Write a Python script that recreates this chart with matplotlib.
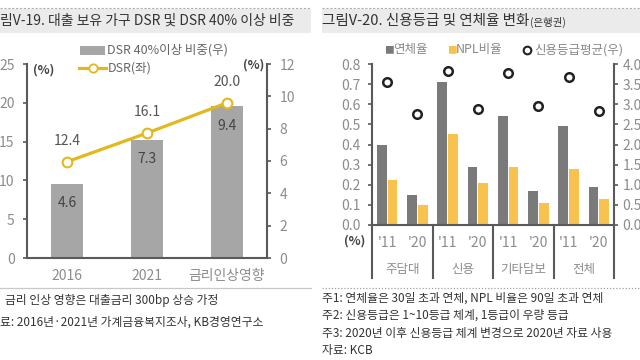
import matplotlib
matplotlib.use("Agg")
import matplotlib.pyplot as plt
from matplotlib.patches import Rectangle
from matplotlib.lines import Line2D
import numpy as np

plt.rcParams['font.family'] = ['Noto Sans CJK KR', 'DejaVu Sans']

# ---- Left chart data ----
left_cats = ["2016", "2021", "금리인상영향"]
dsr = [12.4, 16.1, 20.0]            # left axis
dsr40_share = [4.6, 7.3, 9.4]       # right axis

# ---- Right chart data ----
groups = ["주담대", "신용", "기타담보", "전체"]
years = ["'11", "'20"]
delinq = [0.40, 0.15, 0.71, 0.29, 0.54, 0.17, 0.49, 0.19]
npl = [0.225, 0.10, 0.45, 0.21, 0.29, 0.11, 0.28, 0.13]
credit_grade = [3.55, 2.76, 3.83, 2.88, 3.78, 2.96, 3.68, 2.83]

W, H = 640, 360
fig = plt.figure(figsize=(6.4, 3.6), dpi=100)

def fx(x):
    return x / W

def fy(y):
    return 1 - y / H

def rect(x0, y0, x1, y1):
    return [fx(x0), fy(y1), fx(x1) - fx(x0), fy(y0) - fy(y1)]

SP = "#5a5a5a"
TK = "#8c8c8c"
GOLD = "#E3B81C"

# ---- Title bars ----
for (x0, x1) in [(0, 311), (322, 640)]:
    fig.patches.append(Rectangle((fx(x0), fy(33)), fx(x1) - fx(x0), fy(9) - fy(33),
                                 transform=fig.transFigure, facecolor="#ebebeb",
                                 edgecolor="none", zorder=0))
    fig.add_artist(Line2D([fx(x0), fx(x1)], [fy(8), fy(8)], transform=fig.transFigure,
                          color="#b0b0b0", lw=0.8, ls=(0, (2, 1.5))))
fig.text(fx(0), fy(21), "림V-19. 대출 보유 가구 DSR 및 DSR 40% 이상 비중", fontsize=10,
         color="#333333", va="center", ha="left")
t = fig.text(fx(322), fy(21), "그림V-20. 신용등급 및 연체율 변화", fontsize=10.5,
             color="#333333", va="center", ha="left")
fig.canvas.draw()
bb = t.get_window_extent(renderer=fig.canvas.get_renderer())
fig.text(bb.x1 / W + fx(1), fy(22), "(은행권)", fontsize=7.5, color="#333333",
         va="center", ha="left")

# ---- Left chart ----
axL = fig.add_axes(rect(27, 64, 267, 258))
axR = axL.twinx()
x = np.arange(len(left_cats))
axR.bar(x, dsr40_share, width=0.39, color="#a6a6a6", zorder=2)
axR.set_ylim(0, 12)
axR.set_yticks(np.arange(0, 13, 2))
axL.set_ylim(0, 25)
axL.set_yticks(np.arange(0, 26, 5))
axL.set_xlim(-0.5, 2.5)
axL.set_zorder(axR.get_zorder() + 1)
axL.patch.set_visible(False)
axL.plot(x, dsr, color=GOLD, lw=2.3, marker="o", ms=7, mfc="white", mec=GOLD, mew=1.5,
         zorder=3, clip_on=False)
for xi, v in zip(x, dsr):
    axL.annotate(f"{v:.1f}", (xi, v), xytext=(0, 10), textcoords="offset points",
                 ha="center", va="bottom", fontsize=10, color="#555555")
for xi, v in zip(x, dsr40_share):
    axR.annotate(f"{v:.1f}", (xi, v), xytext=(0, -9), textcoords="offset points",
                 ha="center", va="top", fontsize=10, color="#444444")
axL.set_xticks(x)
axL.set_xticklabels(left_cats)
for a in (axL, axR):
    for s in a.spines.values():
        s.set_visible(False)
    a.tick_params(colors=SP, labelcolor=TK, labelsize=10, length=3, width=1.2)
axL.spines['left'].set_visible(True)
axL.spines['bottom'].set_visible(True)
axR.spines['right'].set_visible(True)
for s in (axL.spines['left'], axL.spines['bottom'], axR.spines['right']):
    s.set_color(SP)
    s.set_linewidth(1.5)
axL.tick_params(axis='x', length=0, pad=8)
axL.tick_params(axis='y', pad=6)
axR.tick_params(axis='y', pad=6)
fig.text(fx(33), fy(70), "(%)", fontsize=9, color="#444444", va="center", ha="left",
         fontweight="bold")
fig.text(fx(264), fy(65), "(%)", fontsize=9, color="#444444", va="center", ha="right",
         fontweight="bold")

# left legend
fig.patches.append(Rectangle((fx(80), fy(55)), fx(25), fy(46) - fy(55),
                             transform=fig.transFigure, facecolor="#a6a6a6", edgecolor="none"))
fig.text(fx(107), fy(50), "DSR 40%이상 비중(우)", fontsize=9, color="#666666", va="center")
fig.add_artist(Line2D([fx(79), fx(106)], [fy(68), fy(68)], transform=fig.transFigure,
                      color=GOLD, lw=2.3))
fig.add_artist(Line2D([fx(92.5)], [fy(68)], transform=fig.transFigure, marker="o", ms=6,
                      mfc="white", mec=GOLD, mew=1.3, ls="none"))
fig.text(fx(108), fy(68), "DSR(좌)", fontsize=9, color="#666666", va="center")

# left footnotes
fig.add_artist(Line2D([fx(0), fx(311)], [fy(288), fy(288)], transform=fig.transFigure,
                      color="#c8c8c8", lw=0.9))
fig.text(fx(5), fy(300), "금리 인상 영향은 대출금리 300bp 상승 가정", fontsize=8.5,
         color="#333333", va="center")
fig.text(fx(0), fy(322), "료: 2016년·2021년 가계금융복지조사, KB경영연구소", fontsize=8.5,
         color="#333333", va="center")

# ---- Right chart ----
ax2 = fig.add_axes(rect(372, 64, 614, 225))
ax2b = ax2.twinx()
pos = np.arange(len(delinq))
ax2.bar(pos - 0.18, delinq, width=0.32, color="#7a7a7a", zorder=2)
ax2.bar(pos + 0.18, npl, width=0.32, color="#F8C24E", zorder=2)
ax2.set_ylim(0, 0.8)
ax2.set_yticks(np.arange(0, 0.81, 0.1))
ax2.set_yticklabels([f"{v:.1f}" for v in np.arange(0, 0.81, 0.1)])
ax2.set_xlim(-0.5, len(delinq) - 0.5)
ax2b.set_ylim(0, 4.0)
ax2b.set_yticks(np.arange(0, 4.01, 0.5))
ax2b.set_yticklabels([f"{v:.1f}" for v in np.arange(0, 4.01, 0.5)])
ax2b.scatter(pos, credit_grade, s=38, facecolors="white", edgecolors="#222222",
             linewidths=1.8, zorder=4)
ax2.set_xticks(pos)
ax2.set_xticklabels(years * len(groups))
for a in (ax2, ax2b):
    for s in a.spines.values():
        s.set_visible(False)
    a.tick_params(colors=SP, labelcolor=TK, labelsize=10, length=3, width=1.2)
ax2.spines['left'].set_visible(True)
ax2.spines['bottom'].set_visible(True)
ax2b.spines['right'].set_visible(True)
for s in (ax2.spines['left'], ax2.spines['bottom'], ax2b.spines['right']):
    s.set_color(SP)
    s.set_linewidth(1.5)
ax2.tick_params(axis='x', length=0, pad=8)
ax2.tick_params(axis='y', pad=5)
ax2b.tick_params(axis='y', pad=3)

# group separators and labels
ext = -(278 - 225) / (225 - 64)
trans = ax2.get_xaxis_transform()
for b in np.arange(-0.5, len(delinq), 2):
    ax2.plot([b, b], [0, ext], transform=trans, color=SP, lw=1.5, clip_on=False)
for gi, g in enumerate(groups):
    ax2.text(gi * 2 + 0.5, -(269 - 225) / (225 - 64), g, transform=trans, ha="center",
             va="center", fontsize=9, color=TK)
fig.text(fx(365), fy(241), "(%)", fontsize=9, color="#444444", va="center", ha="right",
         fontweight="bold")

# right legend
fig.text(fx(384), fy(50), "■", fontsize=7, color="#7a7a7a", va="center")
fig.text(fx(393), fy(50), "연체율", fontsize=9, color="#888888", va="center")
fig.text(fx(447), fy(50), "■", fontsize=7, color="#F8C24E", va="center")
fig.text(fx(456), fy(50), "NPL비율", fontsize=9, color="#888888", va="center")
fig.add_artist(Line2D([fx(527)], [fy(50)], transform=fig.transFigure, marker="o", ms=5.5,
                      mfc="white", mec="#222222", mew=1.5, ls="none"))
fig.text(fx(534), fy(50), "신용등급평균(우)", fontsize=9, color="#888888", va="center")

# right footnotes
fig.add_artist(Line2D([fx(322), fx(640)], [fy(288), fy(288)], transform=fig.transFigure,
                      color="#a0a0a0", lw=0.9, ls=(0, (1, 1.5))))
notes = ["주1: 연체율은 30일 초과 연체, NPL 비율은 90일 초과 연체",
         "주2: 신용등급은 1~10등급 체계, 1등급이 우량 등급",
         "주3: 2020년 이후 신용등급 체계 변경으로 2020년 자료 사용",
         "자료: KCB"]
for i, n in enumerate(notes):
    fig.text(fx(322), fy(298 + i * 17.5), n, fontsize=8.5, color="#333333", va="center")

fig.savefig("out.png", dpi=100)
